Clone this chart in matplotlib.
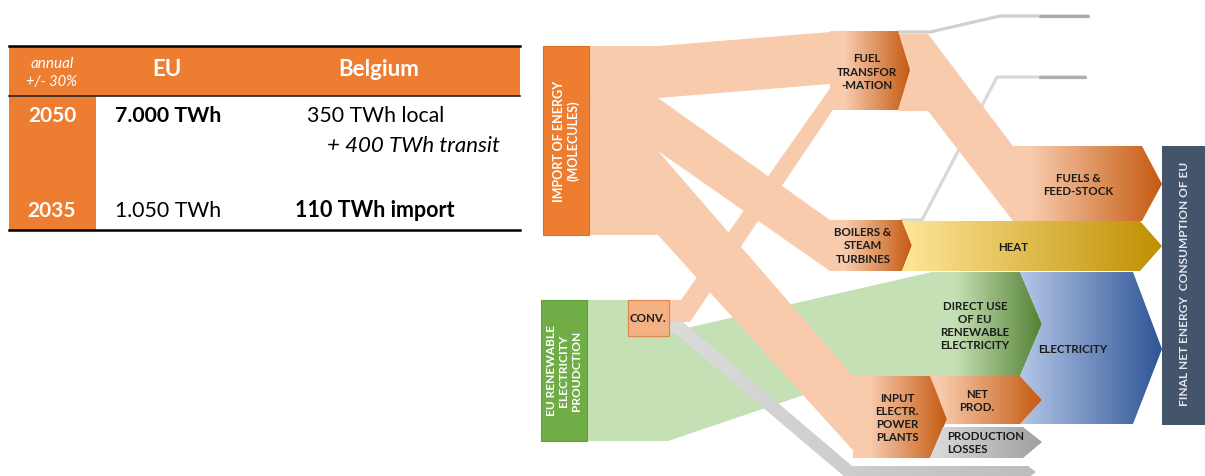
import numpy as np
import matplotlib.pyplot as plt
from matplotlib.patches import Polygon, Rectangle
from matplotlib.colors import LinearSegmentedColormap

# Table contents
head_note = ['annual', '+/- 30%']
head_cols = ['EU', 'Belgium']
years = ['2050', '2035']
eu_energy = ['7.000 TWh', '1.050 TWh']
be_energy = ['350 TWh local', '110 TWh import']
be_transit = '+ 400 TWh transit'

# Diagram labels
src_labels = ['IMPORT OF ENERGY\n(MOLECULES)', 'EU RENEWABLE\nELECTRICITY\nPROUDCTION']
conv_label = 'CONV.'
mid_labels = ['FUEL\nTRANSFOR\n-MATION', 'BOILERS &\nSTEAM\nTURBINES', 'INPUT\nELECTR.\nPOWER\nPLANTS']
out_labels = ['FUELS &\nFEED-STOCK', 'HEAT', 'DIRECT USE\nOF EU\nRENEWABLE\nELECTRICITY',
              'ELECTRICITY', 'NET\nPROD.', 'PRODUCTION\nLOSSES']
sink_label = 'FINAL NET ENERGY  CONSUMPTION OF EU'

plt.rcParams['font.family'] = ['Lato', 'DejaVu Sans']

ORANGE, PEACH, DKOR = '#ED7D31', '#F8CBAD', '#C55A11'
GREEN, LGREEN, DGREEN = '#70AD47', '#C5E0B4', '#548235'
LBLUE, DBLUE = '#B4C7E7', '#2F5597'
LYEL, DYEL = '#FFE699', '#BF9000'
SLATE = '#44546A'
TXT = '#1A1A1A'

W, H = 1205, 477
fig = plt.figure(figsize=(W / 100, H / 100), dpi=100)
ax = fig.add_axes([0, 0, 1, 1])


def flat(pts, color, z=1):
    ax.add_patch(Polygon(pts, closed=True, fc=color, ec='none', zorder=z))


def grad(pts, c0, c1, z=2, x0=None):
    poly = Polygon(pts, closed=True, fc='none', ec='none', zorder=z)
    ax.add_patch(poly)
    xs = [p[0] for p in pts]
    ys = [p[1] for p in pts]
    left = min(xs) if x0 is None else x0
    if left > min(xs):
        flat([(min(xs), min(ys)), (left, min(ys)), (left, max(ys)), (min(xs), max(ys))], c0, z - 0.1)
    cmap = LinearSegmentedColormap.from_list('g', [c0, c1])
    g = np.linspace(0, 1, 256).reshape(1, -1)
    im = ax.imshow(g, cmap=cmap, extent=(left, max(xs), max(ys), min(ys)),
                   aspect='auto', zorder=z, interpolation='bilinear')
    im.set_clip_path(poly)


def lbl(x, y, s, size=8.3, color=TXT, rot=0, z=6, ls=1.3, ha='center'):
    ax.text(x, y, s, ha=ha, va='center', fontsize=size, color=color,
            fontweight='bold', rotation=rot, linespacing=ls, zorder=z)


# ---------- table ----------
ax.add_patch(Rectangle((9, 47), 511, 50, fc=ORANGE, ec='none'))
ax.add_patch(Rectangle((9, 97), 87, 134, fc=ORANGE, ec='none'))
ax.plot([9, 520], [47, 47], color='black', lw=1.8)
ax.plot([9, 520], [97, 97], color='#222222', lw=1.2)
ax.plot([9, 520], [231, 231], color='black', lw=1.8)

ax.text(52, 64, head_note[0], ha='center', va='center', fontsize=11, style='italic', color='white')
ax.text(52, 82, head_note[1], ha='center', va='center', fontsize=10.5, style='italic', color='white')
ax.text(167, 69, head_cols[0], ha='center', va='center', fontsize=16, fontweight='bold', color='white')
ax.text(379, 69, head_cols[1], ha='center', va='center', fontsize=16, fontweight='bold', color='white')

row_y = [116, 211]
for i, y in enumerate(row_y):
    ax.text(52, y, years[i], ha='center', va='center', fontsize=15, fontweight='bold', color='white')
ax.text(115, row_y[0], eu_energy[0], ha='left', va='center', fontsize=15.3, fontweight='bold', color='black')
ax.text(115, row_y[1], eu_energy[1], ha='left', va='center', fontsize=15.3, color='black')
ax.text(307, row_y[0], be_energy[0], ha='left', va='center', fontsize=15.3, color='black')
ax.text(500, 146, be_transit, ha='right', va='center', fontsize=16, style='italic', color='black')
ax.text(295, row_y[1], be_energy[1], ha='left', va='center', fontsize=15.5, fontweight='bold', color='black')

# ---------- flows ----------
# renewable electricity (green band)
flat([(587, 301), (669, 301), (669, 333), (682, 330), (932, 273), (1000, 273),
      (1000, 377), (860, 377), (668, 442), (587, 442)], LGREEN, 1)
# gray band from conversion
grad([(669, 323), (683, 323), (852, 467), (1028, 467), (1036, 473), (1028, 479),
      (846, 479), (676, 335), (669, 335)], '#DCDCDC', '#BDBDBD', 2.5)
# molecules from import
flat([(589, 47), (658, 47), (830, 33), (830, 85), (658, 99), (589, 99)], PEACH, 3)
flat([(589, 99), (658, 99), (830, 221), (830, 272), (658, 152), (589, 152)], PEACH, 3)
flat([(589, 152), (658, 152), (853, 377), (860, 459), (658, 236), (589, 236)], PEACH, 3)
# conversion to fuel transformation
flat([(669, 301), (681, 301), (833, 85), (833, 111), (690, 323), (669, 323)], PEACH, 3)
# fuel transformation output
flat([(898, 35), (928, 35), (1013, 147), (1013, 222), (928, 112), (898, 112)], PEACH, 3)

# loss lines
ax.plot([898, 930, 1000, 1088], [33, 33, 17, 17], color='#D0D0D0', lw=2.3, solid_capstyle='round', zorder=2)
ax.plot([1040, 1088], [17, 17], color='#ABABAB', lw=2.3, solid_capstyle='round', zorder=2)
ax.plot([902, 922, 997, 1085], [221, 221, 78, 78], color='#D8D8D8', lw=2.3, solid_capstyle='round', zorder=2)
ax.plot([1040, 1085], [78, 78], color='#AEAEAE', lw=2.3, solid_capstyle='round', zorder=2)

# ---------- nodes ----------
ax.add_patch(Rectangle((543, 47), 46, 189, fc=ORANGE, ec='#D8702A', lw=0.8, zorder=5))
ax.add_patch(Rectangle((541, 301), 46, 141, fc=GREEN, ec='#62A03C', lw=0.8, zorder=5))
ax.add_patch(Rectangle((628, 301), 41, 36, fc='#F4B183', ec='#E08850', lw=0.9, zorder=5))
ax.add_patch(Rectangle((1162, 147), 45, 279, fc=SLATE, ec='none', zorder=5))

grad([(830, 32), (898, 32), (910, 71), (898, 111), (830, 111)], PEACH, DKOR, 4, x0=845)
grad([(830, 221), (902, 221), (912, 246), (902, 272), (830, 272)], PEACH, DKOR, 4, x0=845)
grad([(853, 377), (930, 377), (947, 420), (930, 459), (860, 459)], PEACH, DKOR, 4, x0=870)
grad([(1013, 147), (1142, 147), (1162, 185), (1142, 222), (1013, 222)], PEACH, DKOR, 4, x0=1030)
grad([(902, 222), (1140, 222), (1162, 247), (1140, 272), (902, 272), (912, 247)], LYEL, DYEL, 4)
grad([(932, 273), (1020, 273), (1042, 325), (1020, 377), (932, 377)], LGREEN, DGREEN, 4, x0=955)
grad([(1020, 273), (1133, 273), (1162, 350), (1133, 425), (1020, 425), (1042, 401),
      (1020, 377), (1042, 325)], LBLUE, DBLUE, 4)
grad([(930, 377), (1020, 377), (1042, 401), (1020, 425), (945, 425), (947, 420)], PEACH, DKOR, 4, x0=940)
grad([(943, 428), (1023, 428), (1042, 443), (1023, 459), (930, 459)], '#DCDCDC', '#A0A0A0', 4)

# ---------- labels ----------
lbl(566, 141, src_labels[0], size=9, color='white', rot=90, ls=1.2)
lbl(564, 371, src_labels[1], size=8.6, color='white', rot=90, ls=1.15)
lbl(648, 319, conv_label)
lbl(867, 72, mid_labels[0])
lbl(863, 246, mid_labels[1])
lbl(897, 418, mid_labels[2], ls=1.2)
lbl(1078, 185, out_labels[0])
lbl(1013, 248, out_labels[1])
lbl(975, 326, out_labels[2], ls=1.2)
lbl(1073, 350, out_labels[3])
lbl(977, 401, out_labels[4])
lbl(947, 443, out_labels[5], ha='left')
lbl(1185, 284, sink_label, size=8.6, color='#E4E8EE', rot=90)

ax.set_xlim(0, W)
ax.set_ylim(H, 0)
ax.axis('off')
fig.savefig('out.png', dpi=100)
